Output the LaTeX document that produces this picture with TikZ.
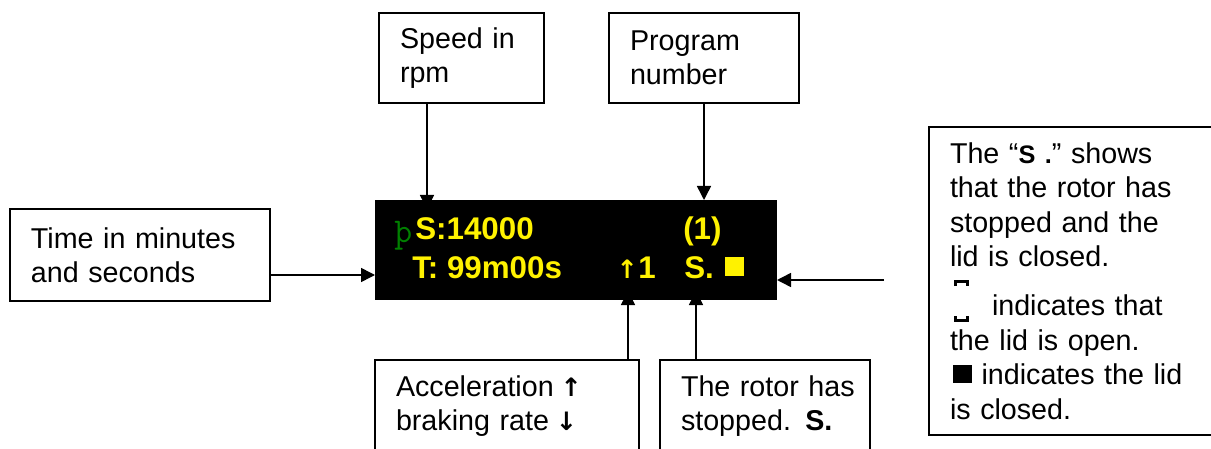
\documentclass[tikz,border=0pt]{standalone}
\usepackage{fontspec}
\setmainfont{Liberation Sans}
\newfontfamily\arrowfont{DejaVu Sans}
\usetikzlibrary{positioning, arrows.meta}
\newlength{\Unit}
\setlength\Unit{0.75pt}
\newcommand{\ratearrow}[2]{\makebox[16\Unit][c]{\arrowfont\fontsize{#1}{25}\selectfont\bfseries #2}}

\begin{document}
\begin{tikzpicture}[
    x = \Unit, y = -\Unit, > = {Triangle[length = 10.5pt, width = 10.5pt]},
    note/.style = {
      rectangle, draw, line width = 1.5*\Unit, align = left, outer sep = 0pt,
      inner xsep = 21*\Unit, inner ysep = 0pt, text width = #1*\Unit - 42*\Unit,
      minimum height = 92*\Unit, font = \fontsize{21.5}{25.8}\selectfont
    },
    screen/.style = {
      rectangle, fill = black, inner sep = 0pt, outer sep = 0pt,
      minimum width = 402*\Unit, minimum height = 100*\Unit
    },
    readout/.style = {
      anchor = base west, inner sep = 0pt, text = yellow,
      font = \fontsize{23.5}{25}\selectfont\bfseries
    },
    path/.style = {
      arrows = ->, line width = 1.5*\Unit
    },
    lidmark/.style = {
      line width = 3*\Unit
    },
    ]
    \useasboundingbox (0,0) rectangle (1211,449);
    \clip (0,0) rectangle (1211,449);

    % draw display
    \node  [screen, anchor = north west]  (display)  at (375,200)  {};
    \node  [readout, text = green!50!black, font = \fontsize{26}{25}\selectfont\ttfamily]  (mark)  at (394,243)  {þ};
    \node  [readout]  (speedval)  at (415,240)  {S:14000};
    \node  [readout]  (progval)  at (683,240)  {(1)};
    \node  [readout]  (timeval)  at (412,278)  {T: 99m00s};
    \node  [readout]  (rateval)  at (619,278)  {\ratearrow{19}{↑}\kern3\Unit 1};
    \node  [readout]  (stopval)  at (684,278)  {S.};
    \node  [fill = yellow, inner sep = 0pt, minimum size = 19*\Unit]  (lidval)  at (734.5,266.5)  {};

    % draw notes
    \node  [note = 165, minimum height = 90*\Unit]  (speed)  [above right = 97*\Unit and 4*\Unit of display.north west]  {Speed in\\rpm};
    \node  [note = 190, minimum height = 90*\Unit]  (program)  [above right = 97*\Unit and 234*\Unit of display.north west]  {Program\\number};
    \node  [note = 260]  (time)  [below left = 9*\Unit and 105*\Unit of display.north west]  {Time in minutes\\and seconds};
    \node  [note = 264]  (accel)  [below right = 60*\Unit and 0*\Unit of display.south west]  {Acceleration \ratearrow{19}{↑}\\braking rate \ratearrow{19}{↓}};
    \node  [note = 210]  (rotor)  [below right = 60*\Unit and 285*\Unit of display.south west]  {\mbox{The rotor has}\\stopped. \textbf{S.}};
    \node  [note = 300, anchor = north west, minimum height = 308*\Unit]  (lid)  at (929,127)  {The “{\fontsize{19}{25.8}\selectfont\bfseries S .}” shows\\that the rotor has\\stopped and the\\lid is closed.\\[15\Unit]
      \hspace*{42\Unit}indicates that\\the lid is open.\\\hspace*{3\Unit}\rule[2\Unit]{19\Unit}{18\Unit} indicates the lid\\is closed.};

    % draw lid open mark
    \draw  [lidmark]  (955.5,286) -- (955.5,281.5) -- (967.5,281.5) -- (967.5,286);
    \draw  [lidmark]  (955.5,316) -- (955.5,320.5) -- (967.5,320.5) -- (967.5,316);

    % draw paths
    \coordinate  (speedtip)  at (427,209);
    \coordinate  (progtip)  at (704,200);
    \coordinate  (timetip)  at (375,275);
    \coordinate  (acceltip)  at (628,291);
    \coordinate  (rotortip)  at (696,291);
    \coordinate  (lidtail)  at (884,280);

    \draw  [path]  (speedtip |- speed.south)  --  (speedtip);
    \draw  [path]  (progtip |- program.south)  --  (progtip);
    \draw  [path]  (time.east |- timetip)  --  (timetip);
    \draw  [path]  (acceltip |- accel.north)  --  (acceltip);
    \draw  [path]  (rotortip |- rotor.north)  --  (rotortip);
    \draw  [path]  (lidtail)  --  (lidtail -| display.east);

\end{tikzpicture}
\end{document}
